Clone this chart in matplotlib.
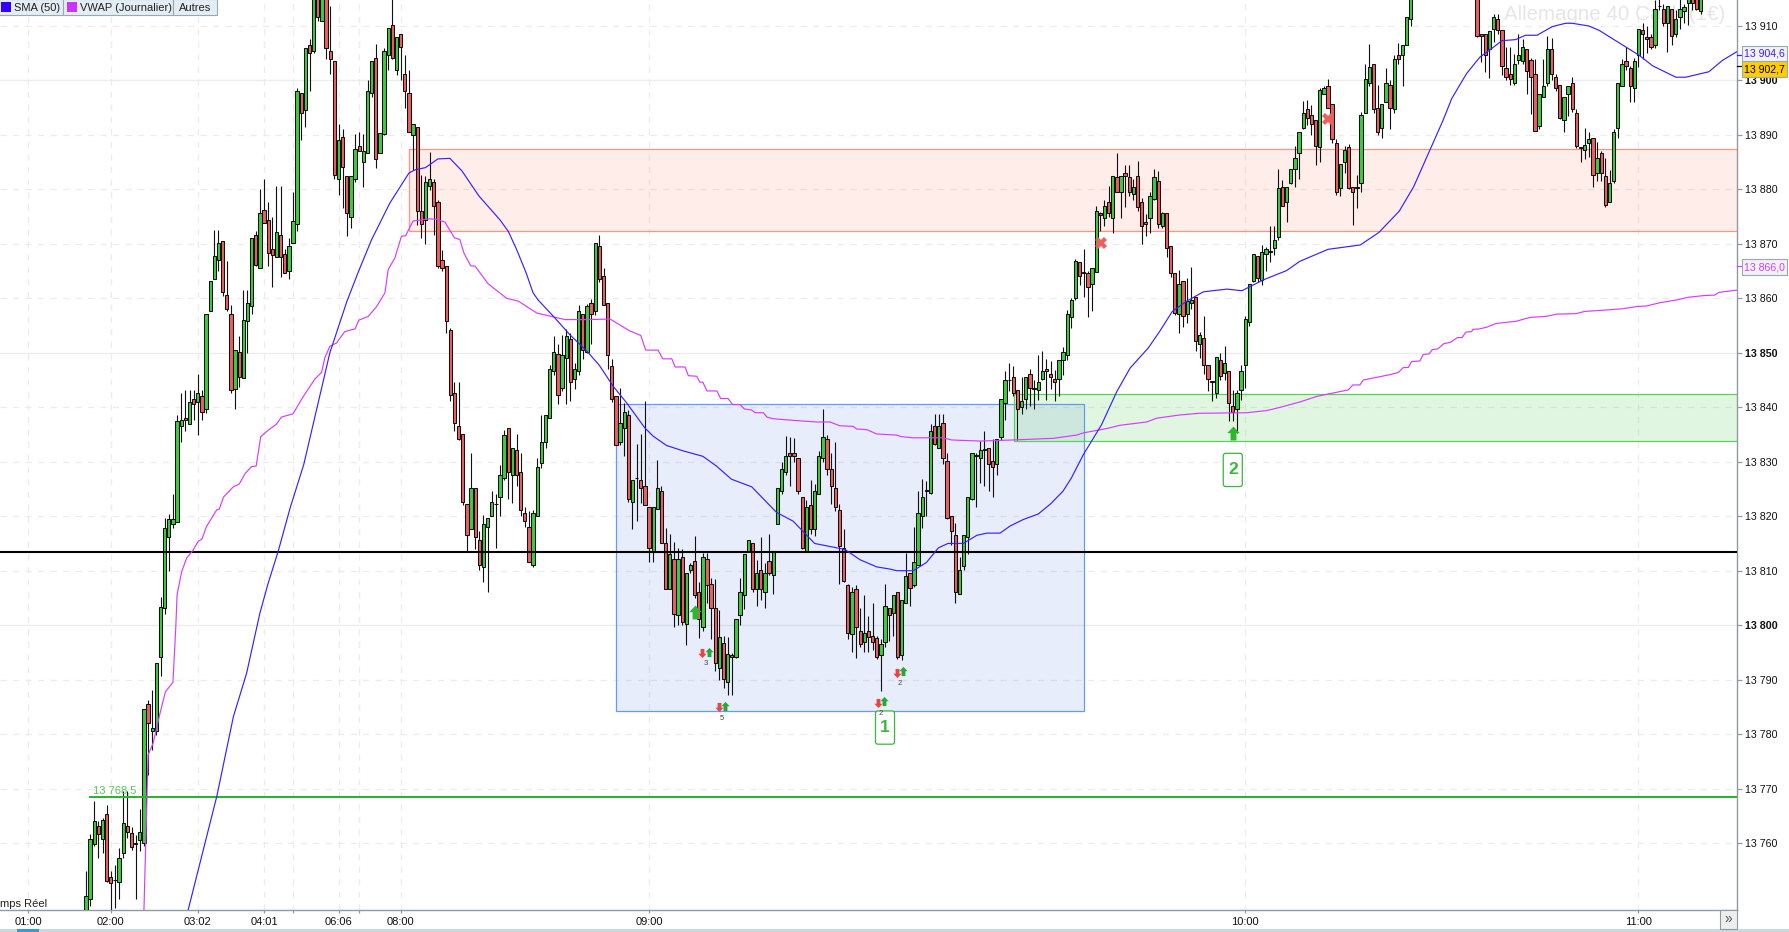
import numpy as np
import matplotlib
matplotlib.use("Agg")
import matplotlib.pyplot as plt
from matplotlib.patches import Rectangle, FancyBboxPatch
from matplotlib.path import Path

plt.rcParams["font.family"] = ["Liberation Sans", "DejaVu Sans"]

W, H = 1789, 932
AX_RIGHT, AX_BOTTOM = 1737, 910

# candles are read in points above this level
BASE = 13700

# candle slots 321-335 are above the visible window
slots = list(range(321)) + list(range(336, 391))

opens = [
    45,49.7,59.8,63.2,60.7,65.3,53.8,53.2,52.8,58.2,
    63.1,61.8,59.8,60.5,60.1,85.5,80.5,80.5,94.1,103.1,
    116.1,118.6,119,136.5,138,137,141.5,141,142,139.6,
    157.7,163.6,167,170.5,160.6,157.2,143.3,150.1,145.3,155.8,
    158.6,171.6,165.6,176.3,174.4,169,167.6,171.6,168.1,165.1,
    170.2,173.6,197.7,194.5,206.6,205.5,217,211,216,205.5,
    203.5,182,189.6,182.5,175,182,188,185,186.7,197.7,
    204.1,186.6,190.1,204.7,210.1,202,208.5,201.1,197.7,190,
    191.5,176,174.3,180.6,181.4,177.6,167,166,154.2,142.7,
    136.5,135.1,122.2,117.7,125.2,115.6,110.7,118.1,120,122.2,
    123.6,127,136.2,127.6,132.1,128.2,120.6,118,111,120,
    129.7,133.7,138.1,146.6,149.7,143.6,149.1,152.6,145.2,146.6,
    157.2,150.1,159.2,157.6,169.6,164.1,159.2,147.6,142,133.7,
    136.2,138.6,122.6,127,126.6,125.5,121.7,113.4,121.3,124.6,
    115.1,106.7,112.2,101.8,112.6,100.2,110.1,111.7,106.1,99.6,
    112.2,107.6,103.2,92.2,96.8,89.6,94.5,94.2,101.8,105.5,
    113.6,115.1,106.7,110.1,106.1,111.7,109.2,118.6,124.6,128.2,
    131.6,131.6,130.7,123.6,113.7,122,117.7,124.1,130.7,134.2,
    128.7,125.2,121.1,114.2,107.3,98.3,106.7,99,97,99,
    98.1,97.7,94.6,97,103.2,102.2,106.1,94.6,104.1,109.6,
    107.3,111,120.1,124.7,124.2,136.5,132.6,137.2,130.1,120,
    116.6,105.7,110.8,116.2,123.2,131.2,130.7,132.2,132.6,130.1,
    129.6,134.5,140.8,145,145.6,143.1,140.1,141.6,146.1,143.5,
    143.1,145.2,147.1,146.1,145.2,145.2,148.7,149.6,156.5,160,
    166.6,164.8,164.6,162.6,164.9,175.6,174.7,177.6,174.7,182.2,
    179.6,183.1,182.2,179.1,182.5,177.6,173.6,174.7,178.3,181.6,
    173.2,175.6,169.7,164.6,157.2,163.1,157.1,159.1,160.2,151.6,
    152.7,147.8,144.8,142.6,148.7,146.3,146.6,140.2,139.7,143.1,
    147.7,155.6,163.1,167.8,163.4,168.1,168.6,169.2,171.2,180.5,
    177.6,181.1,183.7,186.6,191.2,194.7,193.7,192.8,187.7,197.6,
    199,195.6,188.6,180.2,185.1,187.7,180.5,180.2,181.1,194.1,
    199.6,203.1,195,191.2,196.1,199.1,194.7,204.6,204.6,206.6,
    211.2,
    215.5,208.6,208.6,205.7,209.5,211.2,209.2,202.2,201.2,199.6,
    203.7,203.6,205.7,203.7,201.1,191.6,197,199.6,205.7,200.6,
    199.1,192.7,197.6,199.6,194.1,187.7,187.2,188.6,189.5,183.1,
    186.6,182.5,177.6,181.6,191.2,199,203.6,202.2,198.7,204.6,
    209.2,208,208,206.5,213.6,213.2,210.6,213.2,208.6,211.6,
    212.7,214.2,215,215,212.7,
]
closes = [
    50.2,60.7,64,61.7,64.3,53.1,52.7,53.3,57.2,63.7,
    62.1,59.3,60.1,62,84.6,82,81.1,93,103.4,117.9,
    119.5,119.5,137.5,137.6,137.6,141,140.6,142.6,139.1,157.2,
    163.1,167.7,170.2,161.1,158,143.1,150.5,145.6,156.1,159.1,
    171.1,166.1,175.7,173.9,168.4,168,172.1,167.6,164.7,169.6,
    174.2,198,194,206,205,217,211.6,216,206,204,
    182.7,189,184.1,175.6,182.5,187.5,187,187,198,203.5,
    185.5,190.4,205.5,209.6,204.1,208,206.1,198,190.5,192,
    176,173.6,181.3,182,177,166,165.5,155.8,142.2,137.2,
    134.2,122.6,116.5,125.2,116.2,111,118.6,119.7,122.6,122.3,
    127.6,135,128.2,132.5,127.6,121.1,119.1,111.6,120.6,129.1,
    133.7,138.6,147.1,150.1,142.2,149.6,153,144.7,147.1,157.6,
    150.6,158.6,157.2,170.2,163.6,158.7,149.6,141.6,133,137.2,
    139.1,123.2,126.6,127.1,125.2,122,114.2,121.7,125.2,115.1,
    106.7,113.1,102.1,112.2,100.6,109.6,111,105.5,101.2,112.5,
    107.3,103.2,93.1,97.8,90.1,94.7,94.2,101.1,106.1,113.1,
    115.6,106.7,109.6,106.7,109.6,109.6,113.7,125.2,128.7,131,
    131,131,124.6,114.2,121.7,117.7,124.6,131,134.6,128.7,
    125.5,121.7,114.5,108.1,98.5,106.1,99.6,96.6,98.5,97.9,
    97,94.2,96.5,103.5,101.8,105.5,94.2,104.6,109,106.8,
    111.6,120.6,123.5,124.8,135.6,133.2,136.5,130.7,119.7,117.2,
    106.1,110.1,116.6,123.5,131.6,131,132.1,132.3,129.6,129.1,
    134.2,141.6,145.1,145.1,142.7,139.7,141.1,145.5,143.6,143.4,
    144.7,146.6,146.6,145.6,144.7,148.7,150.1,157.2,159.7,166.9,
    164.1,164.7,162,165.5,176.1,175.3,177,175.6,182.5,179.6,
    182.5,182.5,179.6,180.5,176.7,173.2,174.1,178.7,182.2,173.6,
    175.6,169.2,164.6,157.3,162.6,156.7,159.5,159.7,152.1,153.2,
    147.8,145.2,144.7,149.2,145.7,148.1,140.8,139.1,142.6,146.6,
    156.2,162.6,168.1,163.7,168.6,169.1,168.7,170.7,180.2,177,
    180.5,183.7,185.7,190.6,194.1,193.2,192.1,188,198.2,198.7,
    195,189.2,179.6,184.6,187.2,180.2,179.6,180.5,193.6,200.2,
    202.5,194.7,190.6,195.6,199.6,195,204,204,206.6,211.6,
    215.5,
    208.1,208.1,204.6,209.1,211.6,209.2,202.6,200.6,200.2,203.1,
    204.6,206.1,201.8,200.6,190.7,197.6,199,205.7,201.2,198.7,
    193.2,197,199,194.7,188,187.6,188.1,189.2,182.6,185.7,
    183.1,177.1,181.1,190.6,199.6,203.1,202.6,199,203.6,209.4,
    208.6,207.7,206.1,213.2,213.7,210.6,213.7,208.1,211.2,213.1,
    213.5,215,214.2,213.2,215,
]
highs = [
    54.8,61.7,67.8,64.1,64.6,67,54.8,56,59.1,69.5,
    69.5,63,61.5,66.3,84.6,86.2,88.1,93,105.1,119.6,
    120.5,124,138.6,142.6,143.2,143.2,143.2,146.1,143.2,157.2,
    163.1,172.6,172.6,170.5,166.9,158.7,150.5,153,161.6,161.6,
    171.1,172.3,180,181.9,177.6,175,180.6,180.6,169.1,171,
    179.6,198.6,197.7,206,207.6,217,218,217,217,213.7,
    203.5,192.1,191,182.5,182.5,190.1,190.5,190.1,200,203.5,
    206.7,190.4,206,209.6,215.5,208,208.5,204.7,202,192,
    191.5,182.6,182.5,186.9,182,178,168.8,166,154.6,144.7,
    144.7,135.1,122.2,131.7,125.2,117.2,120.2,119.7,124.6,124,
    129.4,135.8,136.2,132.5,135.1,131.7,121.7,121,121.2,130.7,
    138.6,138.6,147.7,153,151.7,153.2,154.3,153.7,148.2,158.7,
    157.2,158.9,159.8,170.2,171.7,165.6,159.2,148.8,142,143.6,
    140.8,139.5,126.6,133.2,135.1,141.1,121.7,121.7,130.3,125.6,
    117.8,116.7,115.3,114.2,113.9,109.6,111.5,116.4,108,113.3,
    113.3,108.7,108.4,102.7,98,97.8,94.8,101.1,108.7,113.1,
    115.6,115.1,112,116.2,111.5,116.7,113.7,125.2,130,134.7,
    134.6,134.3,130.7,123.6,123,126.7,126,132,139.7,135,
    131.7,133.7,122.2,117.7,107.6,107,107.3,103.2,105.5,101.6,
    104,98,97.5,107.5,103.2,105.5,106.1,104.6,113.2,109.6,
    118,124.7,126.8,126.5,136.9,138.7,138.7,138.7,131.6,120,
    118.7,112.6,116.6,123.5,131.6,131.6,133.8,135.7,132.6,134.1,
    134.2,141.6,146.6,148.2,147.6,143.1,145.6,145.5,147,145.1,
    149.6,150.3,148.9,148.5,146.9,148.7,151,157.8,160,167.2,
    166.6,169,165,165.5,176.9,175.8,178,180.6,182.5,186.6,
    182.5,184.5,184.5,182,185.2,178.5,175.5,179.5,183.7,183.3,
    175.9,175.6,169.7,164.6,165.2,163.1,163.7,165.7,160.2,153.9,
    156.7,147.8,144.9,149.2,149.9,151.3,146.6,143.1,143.2,147.8,
    156.8,162.6,168.1,167.8,169.8,169.5,173.2,173.2,183.7,181.7,
    180.5,183.7,187.9,190.6,196.2,196.5,195.5,192.8,198.7,199,
    200.2,195.6,189.2,184.6,188,188.4,180.5,182.6,194.3,203.1,
    206.7,203.1,199.1,195.6,202.2,200,204.6,206.8,206.6,211.6,
    216,
    216,208.6,208.6,209.1,212.2,212.2,209.2,206.2,206.2,204.8,
    208.6,207.7,205.7,204.2,204,197.6,204,208.1,207.8,201.2,
    199.1,197,199,200.7,194.7,187.8,191.2,190.5,189.5,188.7,
    187,185.7,183.5,191,199.6,204,206.2,202.6,204.2,209.4,
    210.6,210,208.5,214.8,215,214,213.7,213.2,213,215,
    214,216,216,216,216,
]
lows = [
    45,48.4,59.4,57.2,58.2,52.9,47,48,49.7,57.2,
    60.9,58.7,49.7,58.5,59.4,72.5,77.1,79.9,90.6,102,
    110,117.9,119,133.6,135.6,137,137.6,135,137.6,139,
    157.7,163.6,165,160.5,157.6,142.7,139.6,143.8,145.3,150,
    157.2,166,165.6,173.9,166,162.1,167.6,164,164.7,163.6,
    170.2,172.4,189,191.5,198,205,211,211,204,201.2,
    182,179,176.5,171.5,173,181.4,187,180.5,186.7,197,
    184,186.6,190,202,204,201,200,195,190.5,183.6,
    173.4,171,170,179.9,171.6,165.5,165,153.7,141.1,135.6,
    134,122,113.6,117.7,114,110.2,108,106.1,120,114.2,
    120,126.6,123.1,122.5,125.5,120,118,111.6,110.7,120,
    128.9,132.6,138.1,146,140.6,143,140.6,141.1,143.3,146,
    148.9,150,151.7,157,163,158.7,147,141,133,133,
    131,122.6,117.6,119.1,122.5,122,111.6,111.6,121.3,115,
    106.7,106.7,99.7,100,100,96.3,109.5,105,97.7,99,
    104,97.5,91.6,90,88.5,87.2,87.2,94,100,103,
    113.6,106,103.5,104.7,103.2,109.2,105.7,118.6,124,127.6,
    125.5,130,124,114,113.7,116.7,116.3,124,130,127.5,
    122.2,121,107.6,108,97.5,95,94,96,95,95,
    95.4,93.7,88,96,97.1,98,93.7,93.6,104.1,103.5,
    107,111,117.9,120,124,133,132.6,129.5,119.5,114.8,
    104.1,105.7,110.1,113,123,121.7,126.1,125.5,124.6,123.5,
    127.6,134,137.6,143,142,134,138.7,139.6,140.3,139.6,
    141.4,145,141.4,143.4,141.1,142,146,148.7,154.5,159.7,
    162.5,160.3,156.5,157.6,164.9,172.3,173.2,175,172,179.6,
    174.7,176.7,178.7,178,176,170,171.5,172,178,173,
    173,167.5,164,157,153.6,154.8,155.4,158,150.3,149,
    146.1,143,141.1,141.7,145,145,137.4,137.5,135.3,141.4,
    143.5,155,163,163,162.5,165,166.6,168,170.7,177,
    174.1,181,180.5,182,191,191.8,190,184.5,185.1,197.5,
    195,188.6,179,178.7,183.1,180,173.4,176.5,179.6,194,
    199,194,190,189.5,196,191.1,194,203,199,206.6,
    210,
    208,203.4,201.6,200.5,207.1,208.6,201,200,199.1,199.1,
    203,203,197.6,193.9,190.7,191,197,199,200,198,
    193,190.6,193.5,194.2,187.6,185.1,185.5,186,180.5,181.5,
    181.5,176.7,177.6,181.1,189.5,199,202,196.1,196.1,202.5,
    204,205,205.7,206,213,210,205.3,206.5,208,209.5,
    210.6,210.2,213,213,212.2,
]

sma_x = [24.7,31.6,35.6,38.8,42,44,46.4,49.3,52.6,58.9,63,65.8,69,73.4,78,79.5,82,85,87.9,
         90.8,94.9,100,102,104,106.3,108,109.2,112.9,116.9,121,124,127.3,130.6,135,137,140.2,
         144.2,149,152.3,155.9,160.8,166.8,170.8,176,183.3,187,191,194.2,195.8,199.8,203,205.9,
         208.2,211.9,215.2,217.6,220.8,223.2,226.4,230,232.9,236,238,240.9,245.3,249,252.2,
         256.6,259.4,262.4,265.9,269.9,275.6,279.2,284.4,290,293.2,300,307.8,312.3,317.2,320.7,
         324.6,327.8,329.9,333.5,336.7,339.1,342,345.3,347.7,350.5,354.2,357.4,359,363,365.5,
         369.5,375.2,378.4,384,386.4,392,395.3,398.8]
sma_y = [13747.8,13768.6,13783.2,13791.2,13802.2,13807.7,13813.5,13821.5,13829.5,13850,13859.4,
         13864.9,13870.8,13877.5,13883,13883.6,13884,13885.6,13885.7,13883.4,13878.8,13874.4,
         13872.3,13869,13864.7,13861,13859.7,13856.7,13853.3,13850.3,13847.7,13843.9,13840.8,
         13836.2,13834.7,13833,13832,13831,13829.2,13826.8,13825.4,13820.7,13819.1,13815,13813.9,
         13812,13810.7,13810.3,13810,13810,13811.5,13814.2,13815,13815,13816.5,13816.9,13816.9,
         13818.2,13819.4,13820.4,13822.2,13824.6,13827,13831.3,13836.8,13842.9,13847.2,13850.9,
         13854,13857.6,13859.5,13861.2,13861.7,13861.4,13863.4,13865.1,13866.8,13869,13869.8,
         13872.1,13876,13880.5,13887.2,13892.7,13896.7,13901.3,13904.3,13905.6,13907.3,13907.5,
         13908.3,13908.3,13909.9,13910.5,13910.5,13910,13909.2,13907.3,13904.6,13902.7,13900.6,
         13900.6,13901.6,13903.7,13905.3]

vwap_x = [14,15,16.2,17.9,19.2,21,21.7,22,23.1,24.3,25.9,27.1,28,29.1,31.6,32.2,33.2,35.6,37,38.5,
          40,41.1,42.2,44,46,47.2,50,52.5,55.3,56.9,57.7,58.9,60.5,62.5,65,65.9,68.2,70.2,72.2,73,
          74.6,76.2,77.2,79,83,84.7,86.7,89,90.3,91.3,92.9,94,97.1,101.6,104.4,108.9,112.9,115.7,
          121,126.6,129.4,131.4,134,135.2,138.2,139.3,141.5,142.3,144.7,145.5,147.5,148.3,149,150,
          152.4,153.3,155.1,156.2,158,159,160.8,161.6,163.6,164.5,166,170.8,176.5,179.7,182.1,185.3,
          186.2,188.6,191,195.8,197,199.8,207,209.1,215.9,223.9,233.6,239.3,240.9,246.6,249.8,256.2,
          258.6,264.3,269,280.4,285.2,288.5,293.3,297.3,300.5,304.9,306,307.7,308.5,315,317,318.2,
          319.4,320.2,322.2,323,324.4,325.2,326.5,328,329.5,331.3,332.4,333.3,334.7,335,336.7,338.3,
          340.7,345.5,348.8,352.8,355.2,360,362,368,371.3,374.6,376.9,380.2,384.2,387,390.7,393.4,
          394.4,398.7]
vwap_y = [13747.8,13776.2,13778.3,13783.9,13787.8,13789.5,13799.8,13805.6,13809.8,13812.3,13813.8,
          13815.4,13815.8,13818.1,13821.2,13821.3,13823.5,13825.4,13825.9,13827.9,13829.1,13829.2,
          13834.6,13835.8,13836.9,13838.2,13838.8,13842,13845.2,13846.4,13849.1,13851.2,13851.8,
          13853.9,13854.4,13856,13856.7,13858.5,13861,13865.3,13867.4,13871.4,13871.5,13874.2,
          13874.6,13874.5,13874,13871.1,13870.8,13868.3,13866,13865.9,13862.7,13860,13859.5,13857.3,
          13856.6,13856.1,13856.1,13856.2,13854.9,13854,13853.2,13850.5,13850.5,13848.9,13848.9,
          13847.4,13847.4,13845.8,13845.7,13844.6,13844.6,13843,13843,13841.6,13841.6,13840.5,
          13840.5,13839.7,13839.5,13839,13839,13838.2,13837.9,13837.6,13837.3,13837.3,13836.6,13836.5,
          13836,13835.9,13835.1,13834.9,13834.6,13834.4,13834.4,13834,13833.8,13834,13834.3,13834.9,
          13835.3,13836.1,13836.7,13837.3,13838,13838.6,13838.9,13839,13839.4,13840,13841,13842,
          13842.5,13843.2,13844.1,13844.1,13845,13846,13846.4,13847.3,13847.3,13848.4,13848.5,13849.7,
          13849.8,13850.6,13850.7,13851.7,13851.9,13852.8,13852.8,13853.8,13853.9,13854.3,13854.4,
          13854.7,13855.4,13855.8,13856.5,13856.7,13857.1,13857.2,13857.6,13857.9,13858.1,13858.5,
          13858.6,13859.2,13859.7,13860.2,13860.5,13860.6,13861.1,13861.5]

y_ticks = list(range(13760, 13911, 10))
y_labels = ["13 760", "13 770", "13 780", "13 790", "13 800", "13 810", "13 820", "13 830",
            "13 840", "13 850", "13 860", "13 870", "13 880", "13 890", "13 900", "13 910"]
strong_levels = [13800, 13850, 13900]
x_ticks = [-14, 6, 27, 43, 50, 61, 66, 76, 136, 280, 375]
x_labels = ["01:00", "02:00", "03:02", "04:01", "", "06:06", "", "08:00", "09:00", "10:00", "11:00"]

red_zone = (78.1, 400, 13872.3, 13887.4)
blue_zone = (128.1, 241.1, 13784.3, 13840.6)
green_zone = (224.2, 400, 13833.9, 13842.4)
black_level = 13813.4
green_level = 13768.5
green_level_start = 1

small_down_x = [148.9, 153, 196, 191.4]
small_down_y = [13794.9, 13784.9, 13791.3, 13785.8]
small_up_x = [150.4, 154.4, 197.4, 192.8]
small_up_y = [13795.1, 13785.2, 13791.6, 13786.1]
count_x = [149.7, 153.7, 196.6, 192]
count_y = [13792.9, 13782.9, 13789.3, 13783.7]
count_text = ["3", "5", "2", "2"]
big_up_x = [147.2, 277.1]
big_up_y = [13802.5, 13835.2]
cross_x = [245.2, 300]
cross_y = [13870.1, 13893]
badge_x = [193, 277]
badge_y = [13781.2, 13828.5]
badge_text = ["1", "2"]
sma_last, vwap_last, price_last = 13904.6, 13866.0, 13902.7

GREEN = "#3fcb3f"
RED = "#e8605f"
SMA_COLOR = "#3b1fff"
VWAP_COLOR = "#d63cff"
AXIS_COLOR = "#8f9ba3"
GRID_COLOR = "#ececec"

fig = plt.figure(figsize=(W / 100, H / 100), dpi=100)
ax = fig.add_axes([0, 1 - AX_BOTTOM / H, AX_RIGHT / W, AX_BOTTOM / H])
ax.set_xlim(-86 / 4.14, (AX_RIGHT - 86) / 4.14)
ax.set_ylim(13910 - (AX_BOTTOM - 26) / 5.447, 13910 + 26 / 5.447)

# grid
for level in y_ticks:
    ax.axhline(level, color=GRID_COLOR, lw=0.9, zorder=0,
               ls="-" if level in strong_levels else (0, (5, 5)))
for tick in x_ticks:
    ax.axvline(tick, color=GRID_COLOR, lw=0.9, ls=(0, (5, 5)), zorder=0)

ax.text(1504 / AX_RIGHT, 1 - 15 / AX_BOTTOM, "Allemagne 40 Cash (1€)", transform=ax.transAxes,
        fontsize=14.8, color="#e6e6e6", va="center", ha="left", zorder=0.5)

# zones
ax.add_patch(Rectangle((red_zone[0], red_zone[2]), red_zone[1] - red_zone[0], red_zone[3] - red_zone[2],
                       facecolor=(250 / 255, 100 / 255, 60 / 255, 0.11), edgecolor="#ff9480", lw=0.9, zorder=1))
ax.add_patch(Rectangle((blue_zone[0], blue_zone[2]), blue_zone[1] - blue_zone[0], blue_zone[3] - blue_zone[2],
                       facecolor=(47 / 255, 97 / 255, 222 / 255, 0.11), edgecolor="#6699ff", lw=0.9, zorder=1))
ax.add_patch(Rectangle((green_zone[0], green_zone[2]), green_zone[1] - green_zone[0], green_zone[3] - green_zone[2],
                       facecolor=(60 / 255, 200 / 255, 60 / 255, 0.15), edgecolor="#55d455", lw=0.9, zorder=1.1))

# candles
xs = np.array(slots)
o = BASE + np.array(opens)
c = BASE + np.array(closes)
hi = BASE + np.array(highs)
lo = BASE + np.array(lows)
ax.vlines(xs, lo, hi, color="#111111", lw=0.8, zorder=2)
colors = [GREEN if b >= a else RED for a, b in zip(o, c)]
ax.bar(xs, np.abs(c - o), bottom=np.minimum(o, c), width=0.8, color=colors,
       edgecolor="#111111", linewidth=0.75, zorder=3)

# levels and indicators
ax.axhline(black_level, color="black", lw=1.5, zorder=4)
ax.plot([green_level_start, 400], [green_level, green_level], color="#33b033", lw=1.5, zorder=4)
ax.text(green_level_start + 0.7, green_level + 0.2, "13 768,5", color="#55c855", fontsize=8, va="bottom", zorder=5)
ax.plot(sma_x, sma_y, color=SMA_COLOR, lw=0.85, zorder=5)
ax.plot(vwap_x, vwap_y, color=VWAP_COLOR, lw=0.85, zorder=4.5)

# signal markers
UP = Path([(0, 1), (0.9, 0.05), (0.42, 0.05), (0.42, -1), (-0.42, -1), (-0.42, 0.05), (-0.9, 0.05), (0, 1)], closed=True)
DOWN = Path([(0, -1), (0.9, -0.05), (0.42, -0.05), (0.42, 1), (-0.42, 1), (-0.42, -0.05), (-0.9, -0.05), (0, -1)], closed=True)
ax.plot(small_down_x, small_down_y, ls="", marker=DOWN, ms=6.6, color="#e84545", mew=0, zorder=6)
ax.plot(small_up_x, small_up_y, ls="", marker=UP, ms=6.6, color="#22aa33", mew=0, zorder=6)
ax.plot(big_up_x, big_up_y, ls="", marker=UP, ms=10, color="#2fb52f", mew=0, zorder=6)
ax.plot(cross_x, cross_y, ls="", marker="X", ms=9, color="#ee5f5f", mew=0, zorder=6)
for bx, by, label in zip(badge_x, badge_y, badge_text):
    ax.add_patch(FancyBboxPatch((bx - 2.3, by - 3.05), 4.6, 6.1, boxstyle="round,pad=0,rounding_size=0.6",
                                mutation_aspect=0.76, facecolor="white", edgecolor="#38b838", lw=0.9, zorder=6))
    ax.text(bx, by, label, color="#3cb83c", fontsize=12.5, fontweight="bold", ha="center", va="center", zorder=7)
for cx, cy, label in zip(count_x, count_y, count_text):
    ax.text(cx, cy, label, color="#444444", fontsize=5.5, ha="center", va="center", zorder=8)

# axes
for side in ("top", "left"):
    ax.spines[side].set_visible(False)
for side in ("right", "bottom"):
    ax.spines[side].set_color(AXIS_COLOR)
    ax.spines[side].set_linewidth(1.0)
ax.yaxis.tick_right()
ax.set_yticks(y_ticks)
ax.set_yticklabels(y_labels, fontsize=7.7)
ax.set_xticks(x_ticks)
ax.set_xticklabels(x_labels, fontsize=8)
ax.tick_params(axis="y", length=3.6, width=0.9, color=AXIS_COLOR, pad=2.4, labelcolor="#111111")
ax.tick_params(axis="x", length=2.2, width=0.9, color=AXIS_COLOR, pad=3, labelcolor="#111111")
for label, level in zip(ax.get_yticklabels(), y_ticks):
    if level in strong_levels:
        label.set_fontweight("bold")

ax.text(0, 1 - 904 / AX_BOTTOM, "mps Réel", transform=ax.transAxes, ha="left", va="center",
        fontsize=8, color="#222222", zorder=8)

for value, color in ((sma_last, SMA_COLOR), (price_last, "black"), (vwap_last, VWAP_COLOR)):
    ax.plot([1, 1 + 5 / AX_RIGHT], [value, value], transform=ax.get_yaxis_transform(), color=color,
            lw=0.9, clip_on=False, zorder=9)


# chrome around the plot, placed in figure pixels
def px_box(x, y, w, h, face, edge="none", lw=0.0, z=5):
    fig.add_artist(Rectangle((x / W, 1 - (y + h) / H), w / W, h / H, transform=fig.transFigure,
                             facecolor=face, edgecolor=edge, linewidth=lw, zorder=z))


def px_text(x, y, text, color="#222222", size=8, ha="left", z=6):
    fig.text(x / W, 1 - y / H, text, color=color, fontsize=size, ha=ha, va="center", zorder=z)


px_box(-1, -1, 64, 16, "#e4edf3", "#9aa8b2", 0.8)
px_box(63, -1, 110, 16, "#e4edf3", "#9aa8b2", 0.8)
px_box(173, -1, 44, 16, "#e4edf3", "#9aa8b2", 0.8)
px_box(1, 2, 10, 10, "#3300ff", z=6)
px_box(67, 2, 10, 10, "#cc33ff", z=6)
px_text(14, 8, "SMA (50)")
px_text(80, 8, "VWAP (Journalier)")
px_text(179, 8, "Autres")

px_box(1742, 46, 45, 15.5, "#f2f2f2", "#9aa8b2", 0.8)
px_text(1744.5, 54, "13 904,6", color=SMA_COLOR, size=7.6)
px_box(1742, 61, 45, 16, "#ffcc00", "#9aa8b2", 0.8)
px_text(1744.5, 69.5, "13 902,7", color="black", size=7.6)
px_box(1742, 259, 45, 15.5, "#f2f2f2", "#9aa8b2", 0.8)
px_text(1744.5, 267, "13 866,0", color=VWAP_COLOR, size=7.6)

px_box(0, 929, W, 3, "#c9d9e2")
px_box(17, 929, 22, 3, "#3a9ad9", z=6)
px_box(1720, 910, 17, 19, "#eeeeee", AXIS_COLOR, 0.8)
px_text(1728.5, 919, "»", color="#555555", size=10, ha="center")

fig.savefig("out.png", dpi=100)
